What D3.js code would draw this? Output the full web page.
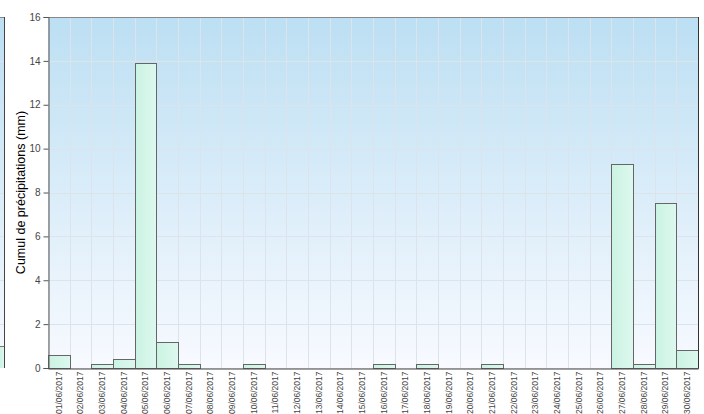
<!DOCTYPE html>
<html><head><meta charset="utf-8">
<script src="https://cdn.jsdelivr.net/npm/d3@7"></script>
<style>body{margin:0;background:#fff}svg{display:block}</style>
</head><body>
<svg id="c" width="704" height="414"></svg>
<script>
const dates = ["01/06/2017","02/06/2017","03/06/2017","04/06/2017","05/06/2017","06/06/2017","07/06/2017","08/06/2017","09/06/2017","10/06/2017","11/06/2017","12/06/2017","13/06/2017","14/06/2017","15/06/2017","16/06/2017","17/06/2017","18/06/2017","19/06/2017","20/06/2017","21/06/2017","22/06/2017","23/06/2017","24/06/2017","25/06/2017","26/06/2017","27/06/2017","28/06/2017","29/06/2017","30/06/2017"];
const rain = [0.6,0,0.2,0.4,13.9,1.2,0.2,0,0,0.2,0,0,0,0,0,0.2,0,0.2,0,0,0.2,0,0,0,0,0,9.3,0.2,7.5,0.8];
const yTicks = [0,2,4,6,8,10,12,14,16];
const yTitle = "Cumul de précipitations (mm)";

const svg = d3.select("#c");
const L = 48, R = 698, T = 17, B = 368;
const x = d3.scaleBand().domain(dates).range([L, R]).padding(0);
const y = d3.scaleLinear().domain([0, 16]).range([B, T]);

const defs = svg.append("defs");
const bg = defs.append("linearGradient").attr("id","bg").attr("x1",0).attr("y1",0).attr("x2",0).attr("y2",1);
bg.append("stop").attr("offset","0%").attr("stop-color","#bcdff3");
bg.append("stop").attr("offset","100%").attr("stop-color","#f8faff");
const bf = defs.append("linearGradient").attr("id","bf").attr("x1",0).attr("y1",0).attr("x2",1).attr("y2",0);
bf.append("stop").attr("offset","0%").attr("stop-color","#caf3e2");
bf.append("stop").attr("offset","100%").attr("stop-color","#def8ef");

// fragment of neighbouring chart on the left
svg.append("rect").attr("x",0).attr("y",T).attr("width",4).attr("height",B-T).attr("fill","url(#bg)");
[2,4,6,8,10,12,14].forEach(v=>svg.append("line").attr("x1",0).attr("x2",4).attr("y1",Math.round(y(v))+0.5).attr("y2",Math.round(y(v))+0.5).attr("stroke","#dde3ea"));
svg.append("rect").attr("x",0).attr("y",y(1)).attr("width",4).attr("height",B-y(1)).attr("fill","url(#bf)");
svg.append("line").attr("x1",0).attr("x2",4).attr("y1",Math.round(y(1))+0.5).attr("y2",Math.round(y(1))+0.5).attr("stroke","#777");
svg.append("line").attr("x1",0).attr("x2",4.5).attr("y1",T+0.5).attr("y2",T+0.5).attr("stroke","#888");
svg.append("line").attr("x1",4.5).attr("x2",4.5).attr("y1",T).attr("y2",B).attr("stroke","#444");

// plot background
svg.append("rect").attr("x",L).attr("y",T).attr("width",R-L).attr("height",B-T).attr("fill","url(#bg)");

// grid
const g = svg.append("g");
yTicks.forEach(v=>{
  g.append("line").attr("x1",L).attr("x2",R).attr("y1",Math.round(y(v))+0.5).attr("y2",Math.round(y(v))+0.5).attr("stroke","#dde3ea");
});
dates.forEach(d=>{
  const xx = Math.round(x(d))+0.5;
  g.append("line").attr("x1",xx).attr("x2",xx).attr("y1",T).attr("y2",B).attr("stroke","#dde3ea");
});

// bars
svg.append("g").selectAll("rect").data(dates.map((d,i)=>({d,v:rain[i]})).filter(o=>o.v>0)).join("rect")
  .attr("x",o=>Math.round(x(o.d))+0.5)
  .attr("y",o=>Math.round(y(o.v))+0.5)
  .attr("width",o=>Math.round(x(o.d)+x.bandwidth())-Math.round(x(o.d)))
  .attr("height",o=>B-Math.round(y(o.v)))
  .attr("fill","url(#bf)").attr("stroke","#666").attr("stroke-width",1);

// borders
svg.append("line").attr("x1",L).attr("x2",R).attr("y1",T+0.5).attr("y2",T+0.5).attr("stroke","#888");
svg.append("line").attr("x1",R+0.5).attr("x2",R+0.5).attr("y1",T).attr("y2",B).attr("stroke","#333");

// y axis
const ya = svg.append("g").attr("transform",`translate(${L+0.5},0)`)
  .call(d3.axisLeft(y).tickValues(yTicks).tickSize(5).tickPadding(3).tickFormat(d3.format("d")));
ya.select(".domain").attr("stroke","#555");
ya.selectAll(".tick line").attr("stroke","#555");
ya.selectAll("text").attr("fill","#444").style("font-family","Liberation Sans, Arial, sans-serif").style("font-size","10px");

// x axis
const xa = svg.append("g").attr("transform",`translate(0,${B+0.5})`)
  .call(d3.axisBottom(x).tickSize(0).tickPadding(0));
xa.select(".domain").attr("stroke","#444");
xa.selectAll(".tick text")
  .attr("transform","rotate(-90)")
  .attr("text-anchor","end")
  .attr("x",-3).attr("y",0).attr("dy","0.35em")
  .attr("fill","#444").style("font-family","Liberation Sans, Arial, sans-serif").style("font-size","8.5px");

// y title
svg.append("text").attr("transform",`translate(25,${(T+B)/2}) rotate(-90)`)
  .attr("text-anchor","middle").attr("fill","#000")
  .style("font-family","Liberation Sans, Arial, sans-serif").style("font-size","12.5px")
  .text(yTitle);
</script>
</body></html>
